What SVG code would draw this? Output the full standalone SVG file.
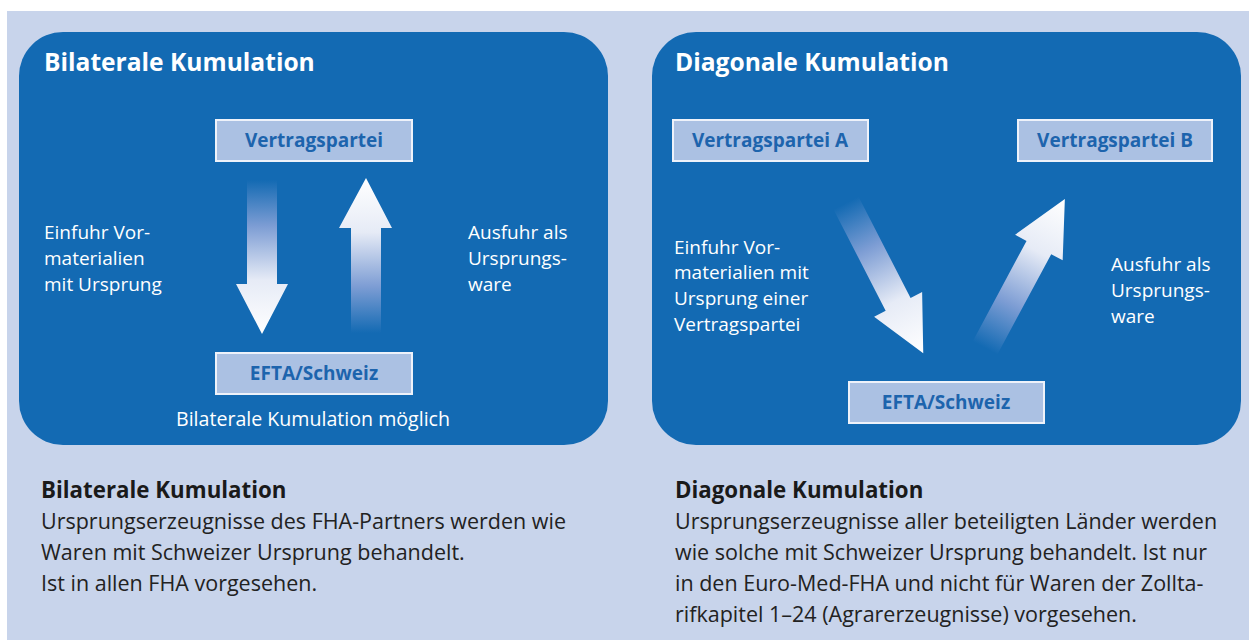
<svg xmlns="http://www.w3.org/2000/svg" width="1249" height="640" viewBox="0 0 1249 640">
  <style>
    .bg { fill: #c8d4eb; }
    .panel { fill: #136ab3; }
    .title { font-family: "Open Sans", "Liberation Sans", sans-serif; font-weight: bold; font-size: 24.6px; fill: #ffffff; }
    .box rect { fill: #abc1e3; stroke: #eef2fa; stroke-width: 2; }
    .box text { font-family: "Open Sans", "Liberation Sans", sans-serif; font-weight: bold; font-size: 19px; fill: #1d64ad; text-anchor: middle; }
    .lbl { font-family: "Open Sans", "Liberation Sans", sans-serif; font-size: 19px; fill: #ffffff; }
    .lbl.note { font-size: 19.6px; text-anchor: middle; }
    .cap { font-family: "Open Sans", "Liberation Sans", sans-serif; font-size: 21.5px; fill: #222222; }
    .caph { font-family: "Open Sans", "Liberation Sans", sans-serif; font-size: 22.3px; font-weight: bold; fill: #1a1a1a; }
  </style>
  <defs>
    <!-- tail (y=0) blends into the panel, head (y=1) is white -->
    <linearGradient id="fade" x1="0" y1="0" x2="0" y2="1">
      <stop offset="0" stop-color="#136ab3"/>
      <stop offset="0.3" stop-color="#7d9dd4"/>
      <stop offset="0.65" stop-color="#e6ebf6"/>
      <stop offset="1" stop-color="#ffffff"/>
    </linearGradient>
    <linearGradient id="fadeUp" x1="0" y1="1" x2="0" y2="0">
      <stop offset="0" stop-color="#136ab3"/>
      <stop offset="0.3" stop-color="#7d9dd4"/>
      <stop offset="0.65" stop-color="#e6ebf6"/>
      <stop offset="1" stop-color="#ffffff"/>
    </linearGradient>
  </defs>

  <rect x="0" y="0" width="1249" height="640" fill="#ffffff"/>
  <rect class="bg" x="7" y="11" width="1242" height="629"/>

  <!-- left panel -->
  <rect class="panel" x="19" y="32" width="589" height="413" rx="44" ry="44"/>
  <text class="title" x="44" y="71">Bilaterale Kumulation</text>

  <!-- right panel -->
  <rect class="panel" x="652" y="32" width="589" height="413" rx="44" ry="44"/>
  <text class="title" x="675" y="71">Diagonale Kumulation</text>

  <g id="connectors">
    <!-- bilateral: import down, export up -->
    <path d="M247,180 H277 V284 H288 L262,334 L236,284 H247 Z" fill="url(#fade)"/>
    <path d="M351,333 V228 H339 L366,178 L392,228 H381 V333 Z" fill="url(#fadeUp)"/>
    <!-- diagonal: A to EFTA, EFTA to B -->
    <g transform="translate(846,203) rotate(-27.2)">
      <path d="M-14,0 H14 V114 H27 L0,169 L-27,114 H-14 Z" fill="url(#fade)"/>
    </g>
    <g transform="translate(985,348) rotate(28.2)">
      <path d="M-14,0 V-114 H-27 L0,-169 L27,-114 H14 V0 Z" fill="url(#fadeUp)"/>
    </g>
  </g>

  <g id="node-vertragspartei" class="box">
    <rect x="216" y="120" width="196" height="41"/>
    <text x="314" y="147">Vertragspartei</text>
  </g>
  <g id="node-efta-bilateral" class="box">
    <rect x="216" y="353" width="196" height="41"/>
    <text x="314" y="380">EFTA/Schweiz</text>
  </g>
  <g id="node-vertragspartei-a" class="box">
    <rect x="673" y="120" width="195" height="41"/>
    <text x="770" y="147">Vertragspartei A</text>
  </g>
  <g id="node-vertragspartei-b" class="box">
    <rect x="1018" y="120" width="194" height="41"/>
    <text x="1115" y="147">Vertragspartei B</text>
  </g>
  <g id="node-efta-diagonal" class="box">
    <rect x="849" y="382" width="195" height="41"/>
    <text x="946" y="409">EFTA/Schweiz</text>
  </g>

  <!-- labels inside the panels -->
  <text class="lbl" x="44" y="239">Einfuhr Vor-</text>
  <text class="lbl" x="44" y="265">materialien</text>
  <text class="lbl" x="44" y="291">mit Ursprung</text>
  <text class="lbl" x="468" y="239">Ausfuhr als</text>
  <text class="lbl" x="468" y="265">Ursprungs-</text>
  <text class="lbl" x="468" y="291">ware</text>
  <text class="lbl note" x="313" y="426">Bilaterale Kumulation möglich</text>

  <text class="lbl" x="674" y="254">Einfuhr Vor-</text>
  <text class="lbl" x="674" y="279">materialien mit</text>
  <text class="lbl" x="674" y="305">Ursprung einer</text>
  <text class="lbl" x="674" y="331">Vertragspartei</text>
  <text class="lbl" x="1111" y="271">Ausfuhr als</text>
  <text class="lbl" x="1111" y="297">Ursprungs-</text>
  <text class="lbl" x="1111" y="323">ware</text>

  <!-- captions below -->
  <text class="caph" x="41" y="498">Bilaterale Kumulation</text>
  <text class="cap" x="41" y="529">Ursprungserzeugnisse des FHA-Partners werden wie</text>
  <text class="cap" x="41" y="560">Waren mit Schweizer Ursprung behandelt.</text>
  <text class="cap" x="41" y="591">Ist in allen FHA vorgesehen.</text>

  <text class="caph" x="675" y="498">Diagonale Kumulation</text>
  <text class="cap" x="675" y="529">Ursprungserzeugnisse aller beteiligten Länder werden</text>
  <text class="cap" x="675" y="560">wie solche mit Schweizer Ursprung behandelt. Ist nur</text>
  <text class="cap" x="675" y="591">in den Euro-Med-FHA und nicht für Waren der Zollta-</text>
  <text class="cap" x="675" y="622">rifkapitel 1–24 (Agrarerzeugnisse) vorgesehen.</text>
</svg>
